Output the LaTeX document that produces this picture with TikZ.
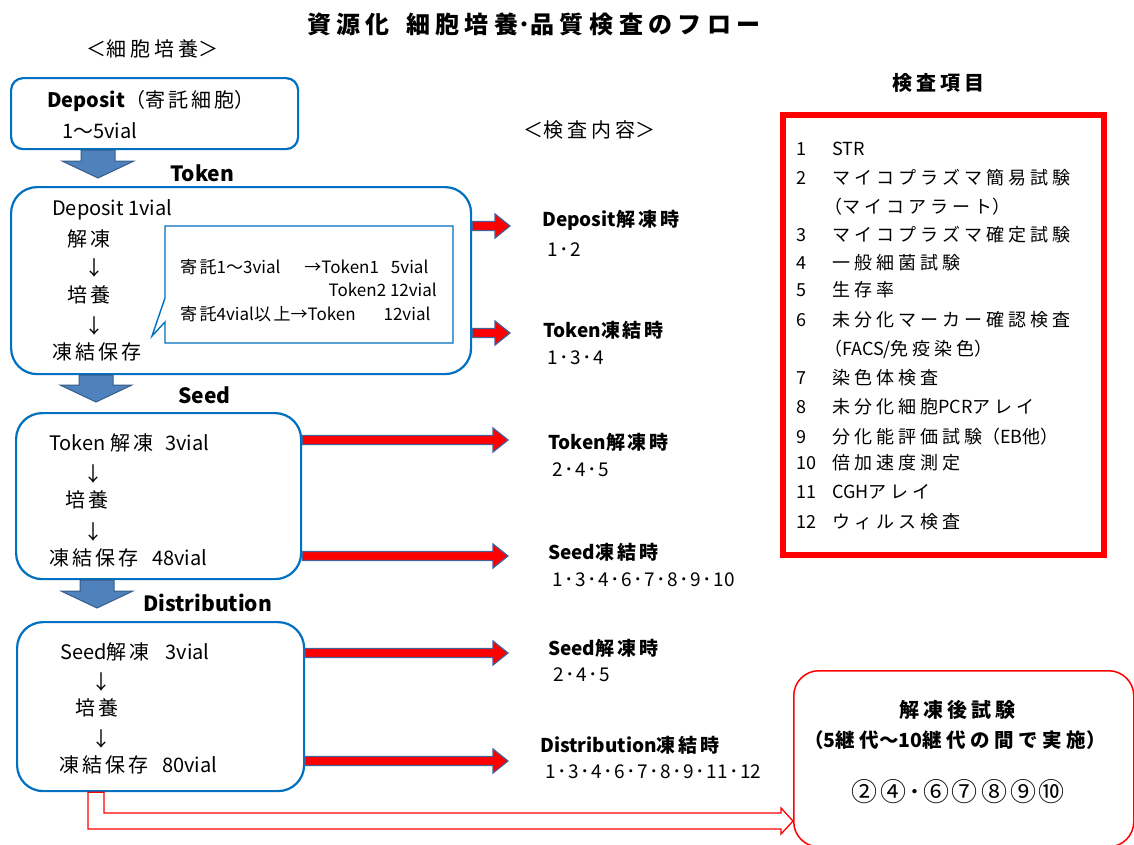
\documentclass[tikz,border=0pt]{standalone}
\usepackage{fontspec}
\setmainfont{Noto Sans CJK JP}
\usetikzlibrary{calc}
\definecolor{boxblue}{HTML}{0070C0}
\definecolor{arrfill}{HTML}{4F81BD}
\definecolor{arrline}{HTML}{385D8A}
\definecolor{redline}{HTML}{44619A}
% extra spacing between CJK characters
\chardef\cjkclass=7
\newcount\cjkcc
\cjkcc="3040 \loop \XeTeXcharclass\cjkcc=\cjkclass \advance\cjkcc by 1 \ifnum\cjkcc<"3100 \repeat
\cjkcc="4E00 \loop \XeTeXcharclass\cjkcc=\cjkclass \advance\cjkcc by 1 \ifnum\cjkcc<"A000 \repeat
\XeTeXinterchartokenstate=1
\def\cjkgap{2pt}
\XeTeXinterchartoks\cjkclass\cjkclass = {\kern\cjkgap}
\newcommand\fsz[3]{\fontsize{#1}{#2}\selectfont\def\cjkgap{#3}}
\newcommand\sep{\hspace{1.5pt}･\hspace{1.5pt}}
\tikzset{
  bluebox/.style={draw=boxblue, line width=2.2pt, fill=white, inner sep=0pt, anchor=north west},
  body/.style={anchor=west, inner sep=0pt, font=\fsz{20}{23}{3pt}},
  call/.style={anchor=west, inner sep=0pt, font=\fsz{17}{20}{2.5pt}},
  stage/.style={anchor=west, inner sep=0pt, font=\bfseries\fsz{21}{24}{2pt}},
  when/.style={anchor=west, inner sep=0pt, font=\bfseries\fsz{19}{22}{3pt}},
  nums/.style={anchor=west, inner sep=0pt, font=\fsz{19}{22}{2pt}},
  item/.style={anchor=west, inner sep=0pt, font=\fsz{18}{21}{4pt}},
  head/.style={inner sep=0pt, font=\bfseries\fsz{20}{23}{4pt}},
}
\newcommand\downblock[2]{\path[fill=arrfill, draw=arrline, line width=1pt] let \p1=(#1), \p2=(#2) in
  (\x1-17pt,\y1) -- (\x1-17pt,\y2+17pt) -- (\x1-36pt,\y2+17pt) -- (\x1,\y2) -- (\x1+36pt,\y2+17pt) -- (\x1+17pt,\y2+17pt) -- (\x1+17pt,\y1) -- cycle;}
\newcommand\redblock[2]{\path[fill=red, draw=redline, line width=1.2pt] let \p1=(#1), \p2=(#2) in
  (\x1,\y1+4.5pt) -- (\x2-15pt,\y1+4.5pt) -- (\x2-15pt,\y1+12pt) -- (\x2,\y1) -- (\x2-15pt,\y1-12pt) -- (\x2-15pt,\y1-4.5pt) -- (\x1,\y1-4.5pt) -- cycle;}
\newcommand\hollowarrow[2]{\path[draw=red, line width=1.3pt, fill=white] let \p1=(#1), \p2=(#2) in
  (\x1-8pt,\y1) -- (\x1-8pt,\y2-8pt) -- (\x2-12pt,\y2-8pt) -- (\x2-12pt,\y2-13pt) -- (\x2,\y2) -- (\x2-12pt,\y2+13pt) -- (\x2-12pt,\y2+8pt) -- (\x1+8pt,\y2+8pt) -- (\x1+8pt,\y1) -- cycle;}
\begin{document}
\begin{tikzpicture}[x=1pt,y=-1pt]
\useasboundingbox[fill=white] (0,0) rectangle (1134,844);
% titles
\node[inner sep=0pt, font=\bfseries\fsz{24}{28}{5.5pt}] (title) at (534,24) {資源化\hspace{16pt}細胞培養･品質検査のフロー};
\node[head, font=\fsz{20}{23}{4pt}] (cc) at (152,49) {＜細胞培養＞};
\node[head, font=\fsz{20}{23}{4pt}] (kn) at (589,130) {＜検査内容＞};
\node[head] (ki) at (938,83) {検査項目};
% blue boxes
\node[bluebox, rounded corners=12pt, minimum width=287pt, minimum height=71pt] (dep) at (10,77) {};
\node[bluebox, rounded corners=26pt, minimum width=460pt, minimum height=187pt] (tok) at (10,186) {};
\node[bluebox, rounded corners=26pt, minimum width=285pt, minimum height=166pt] (seed) at (15,412) {};
\node[bluebox, rounded corners=26pt, minimum width=287pt, minimum height=169pt] (dist) at (16,621) {};
% callout
\draw[draw=boxblue, line width=1.4pt, fill=white] (165,226) -- (453,226) -- (453,343) -- (165,343) -- (165,322) -- (152,336) -- (165,298) -- cycle;
% deposit text
\node[body] (d1) at (47,101) {\textbf{Deposit}（寄託細胞）};
\node[body] (d2) at (62,131) {1～5vial};
% stage labels
\node[stage] (lt) at (170,173) {Token};
\node[stage] (ls) at (178,395) {Seed};
\node[stage] (ld) at (143,603) {Distribution};
% token text
\node[body] (t1) at (52,210) {Deposit 1vial};
\node[body] (t2) at (67,239) {解凍};
\node[body] (t3) at (84,268) {↓};
\node[body] (t4) at (67,295) {培養};
\node[body] (t5) at (84,326) {↓};
\node[body] (t6) at (52,352) {凍結保存};
\node[call] (c1) at (180,267) {寄託1～3vial\hspace{24pt}→Token1\hspace{12pt}5vial};
\node[call, anchor=east] (c2) at (437,290) {Token2\ 12vial};
\node[call] (c3) at (180,314) {寄託4vial以上→Token\hspace{28pt}12vial};
% seed text
\node[body] (s1) at (49,443) {Token 解凍\hspace{12pt}3vial};
\node[body] (s2) at (83,474) {↓};
\node[body] (s3) at (65,500) {培養};
\node[body] (s4) at (83,532) {↓};
\node[body] (s5) at (49,558) {凍結保存\hspace{14pt}48vial};
% distribution text
\node[body] (u1) at (60,652) {Seed解凍\hspace{16pt}3vial};
\node[body] (u2) at (91,682) {↓};
\node[body] (u3) at (75,708) {培養};
\node[body] (u4) at (91,739) {↓};
\node[body] (u5) at (59,765) {凍結保存\hspace{14pt}80vial};
% blue block arrows
\downblock{[xshift=88pt]dep.south west}{[xshift=88pt,yshift=8pt]tok.north west}
\downblock{[xshift=86pt]tok.south west}{[xshift=86pt,yshift=10pt]seed.north west}
\downblock{[xshift=82pt]seed.south west}{[xshift=82pt,yshift=13pt]dist.north west}
% inspection labels
\node[when] (w1) at (542,220) {Deposit解凍時};
\node[nums] (n1) at (547,250) {1\sep 2};
\node[when] (w2) at (543,330) {Token凍結時};
\node[nums] (n2) at (547,358) {1\sep 3\sep 4};
\node[when] (w3) at (548,442) {Token解凍時};
\node[nums] (n3) at (552,470) {2\sep 4\sep 5};
\node[when] (w4) at (548,552) {Seed凍結時};
\node[nums] (n4) at (552,580) {1\sep 3\sep 4\sep 6\sep 7\sep 8\sep 9\sep 10};
\node[when] (w5) at (548,648) {Seed解凍時};
\node[nums] (n5) at (553,675) {2\sep 4\sep 5};
\node[when] (w6) at (540,745) {Distribution凍結時};
\node[nums] (n6) at (545,772) {1\sep 3\sep 4\sep 6\sep 7\sep 8\sep 9\sep 11\sep 12};
% red arrows
\coordinate (a1) at (tok.east |- 0,226); \coordinate (b1) at (510,226);
\coordinate (a2) at (tok.east |- 0,333); \coordinate (b2) at (510,333);
\coordinate (a3) at (seed.east |- 0,440); \coordinate (b3) at (508,440);
\coordinate (a4) at (seed.east |- 0,556); \coordinate (b4) at (508,556);
\coordinate (a5) at (dist.east |- 0,653); \coordinate (b5) at (508,653);
\coordinate (a6) at (dist.east |- 0,761); \coordinate (b6) at (508,761);
\redblock{a1}{b1}\redblock{a2}{b2}\redblock{a3}{b3}
\redblock{a4}{b4}\redblock{a5}{b5}\redblock{a6}{b6}
% list box
\node[draw=red, line width=6pt, minimum width=321pt, minimum height=440pt, anchor=north west, inner sep=0pt] (list) at (780,112) {};
\node[item] (i1) at (796,149) {1};   \node[item] (j1) at (832,149) {STR};
\node[item] (i2) at (796,178) {2};   \node[item] (j2) at (832,178) {マイコプラズマ簡易試験};
\node[item] (j2b) at (824,207) {（マイコアラート）};
\node[item] (i3) at (796,235) {3};   \node[item] (j3) at (832,235) {マイコプラズマ確定試験};
\node[item] (i4) at (796,263) {4};   \node[item] (j4) at (832,263) {一般細菌試験};
\node[item] (i5) at (796,290) {5};   \node[item] (j5) at (832,290) {生存率};
\node[item] (i6) at (796,320) {6};   \node[item] (j6) at (832,320) {未分化マーカー確認検査};
\node[item] (j6b) at (824,349) {（FACS/免疫染色）};
\node[item] (i7) at (796,378) {7};   \node[item] (j7) at (832,378) {染色体検査};
\node[item] (i8) at (796,407) {8};   \node[item] (j8) at (832,407) {未分化細胞PCRアレイ};
\node[item] (i9) at (796,437) {9};   \node[item] (j9) at (832,437) {分化能評価試験（EB他）};
\node[item] (i10) at (796,463) {10}; \node[item] (j10) at (832,463) {倍加速度測定};
\node[item] (i11) at (796,492) {11}; \node[item] (j11) at (832,492) {CGHアレイ};
\node[item] (i12) at (796,522) {12}; \node[item] (j12) at (832,522) {ウィルス検査};
% post-thaw box
\node[draw=red, line width=1.5pt, rounded corners=25pt, minimum width=340pt, minimum height=176pt, anchor=north west, inner sep=0pt] (post) at (793,670) {};
\node[head] (p1) at (957,710) {解凍後試験};
\node[head, font=\bfseries\fsz{19.5}{22}{4.5pt}] (p2) at (955,740) {（5継代～10継代の間で実施）};
\node[inner sep=0pt, font=\fsz{26}{30}{1pt}] (p3) at (958,792) {②\kern3pt④\kern2pt･\kern2pt⑥\kern3pt⑦\kern3pt⑧\kern3pt⑨\kern3pt⑩};
% hollow arrow
\coordinate (hs) at ([xshift=80pt]dist.south west);
\coordinate (he) at (post.west |- 0,821);
\hollowarrow{hs}{he}
\end{tikzpicture}
\end{document}
